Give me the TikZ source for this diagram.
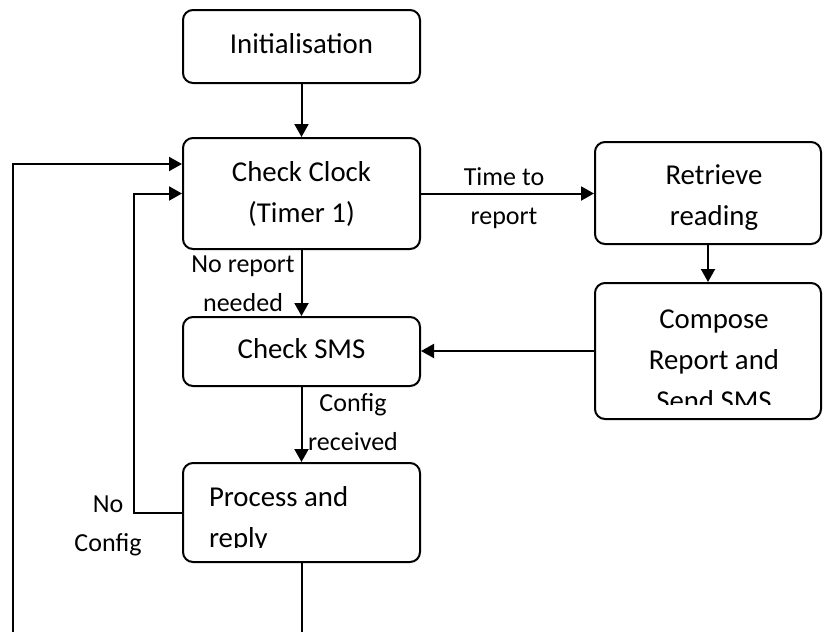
\documentclass[tikz,border=0pt]{standalone}
\usepackage{fontspec}
\setmainfont{Carlito}
\usetikzlibrary{arrows.meta}

\newcommand{\boxfont}{\fontsize{14.4}{20.5}\selectfont}
\newcommand{\lblfont}{\fontsize{13}{19.5}\selectfont}

\tikzset{
  box/.style={draw, line width=1pt, rounded corners=5pt, inner sep=0pt,
    minimum width=118.5pt, align=center, font=\boxfont},
  % text that runs past the inner margin gets cut off
  clipped/.style 2 args={path picture={
    \clip ([yshift=7.5pt]path picture bounding box.south west)
      rectangle (path picture bounding box.north east);
    \node[font=\boxfont, inner sep=0pt, minimum width=0pt, minimum height=0pt,
      align=center, #1] at (path picture bounding box.center) {#2};}},
  flow/.style={line width=1pt, -{Triangle[length=6.5pt,width=7pt]}},
  wire/.style={line width=1pt},
  lbl/.style={font=\lblfont, inner sep=0pt, align=center}
}

\begin{document}
\begin{tikzpicture}[x=0.5pt, y=-0.5pt]
  \useasboundingbox (0,0) rectangle (823,632);

  % main column
  \node[box, minimum height=36.5pt, text depth=3.5pt] (init) at (301.5,46.5) {Initialisation};
  \node[box, minimum height=55.5pt] (clock) at (301.5,193.5) {Check Clock\\(Timer 1)};
  \node[box, minimum height=34.5pt, text depth=3.5pt] (sms) at (301.5,351.5) {Check SMS};
  \node[box, minimum height=49.5pt,
    clipped={anchor=west, align=left, xshift=-46.75pt, yshift=-3.5pt}{Process and\\reply}]
    (proc) at (301.5,512.5) {};

  % report branch
  \node[box, minimum width=113pt, minimum height=51pt,
    clipped={xshift=3pt, yshift=-2.5pt}{Retrieve\\reading}] (fetch) at (708,193) {};
  \node[box, minimum width=113pt, minimum height=68pt,
    clipped={xshift=3pt, yshift=-4.5pt}{Compose\\Report and\\Send SMS}] (send) at (708,351) {};

  % labels
  \node[lbl] (noreport) at (243,284) {No report\\needed};
  \node[lbl] (timeto) at (504,198.5) {Time to\\report};
  \node[lbl] (cfgin) at (353,422) {Config\\received};
  \node[lbl] (nocfg) at (108,525.5) {No\\Config};

  % loose ends at the bottom
  \coordinate (cut1) at (301.5,632);
  \coordinate (cut2) at (13,632);

  \draw[flow] (init) -- (clock);
  \draw[flow] (clock) -- (sms);
  \draw[flow] (clock.east) -- (clock.east -| fetch.west);
  \draw[flow] (fetch) -- (send);
  \draw[flow] (send.west) -- (send.west -| sms.east);
  \draw[flow] (sms) -- (proc);
  \draw[flow] (proc.west) -- ++(-24pt,0) |- (clock.west);
  \draw[wire] (proc.south) -- (cut1);
  \draw[flow] (cut2) |- ([yshift=14.75pt]clock.west);
\end{tikzpicture}
\end{document}
